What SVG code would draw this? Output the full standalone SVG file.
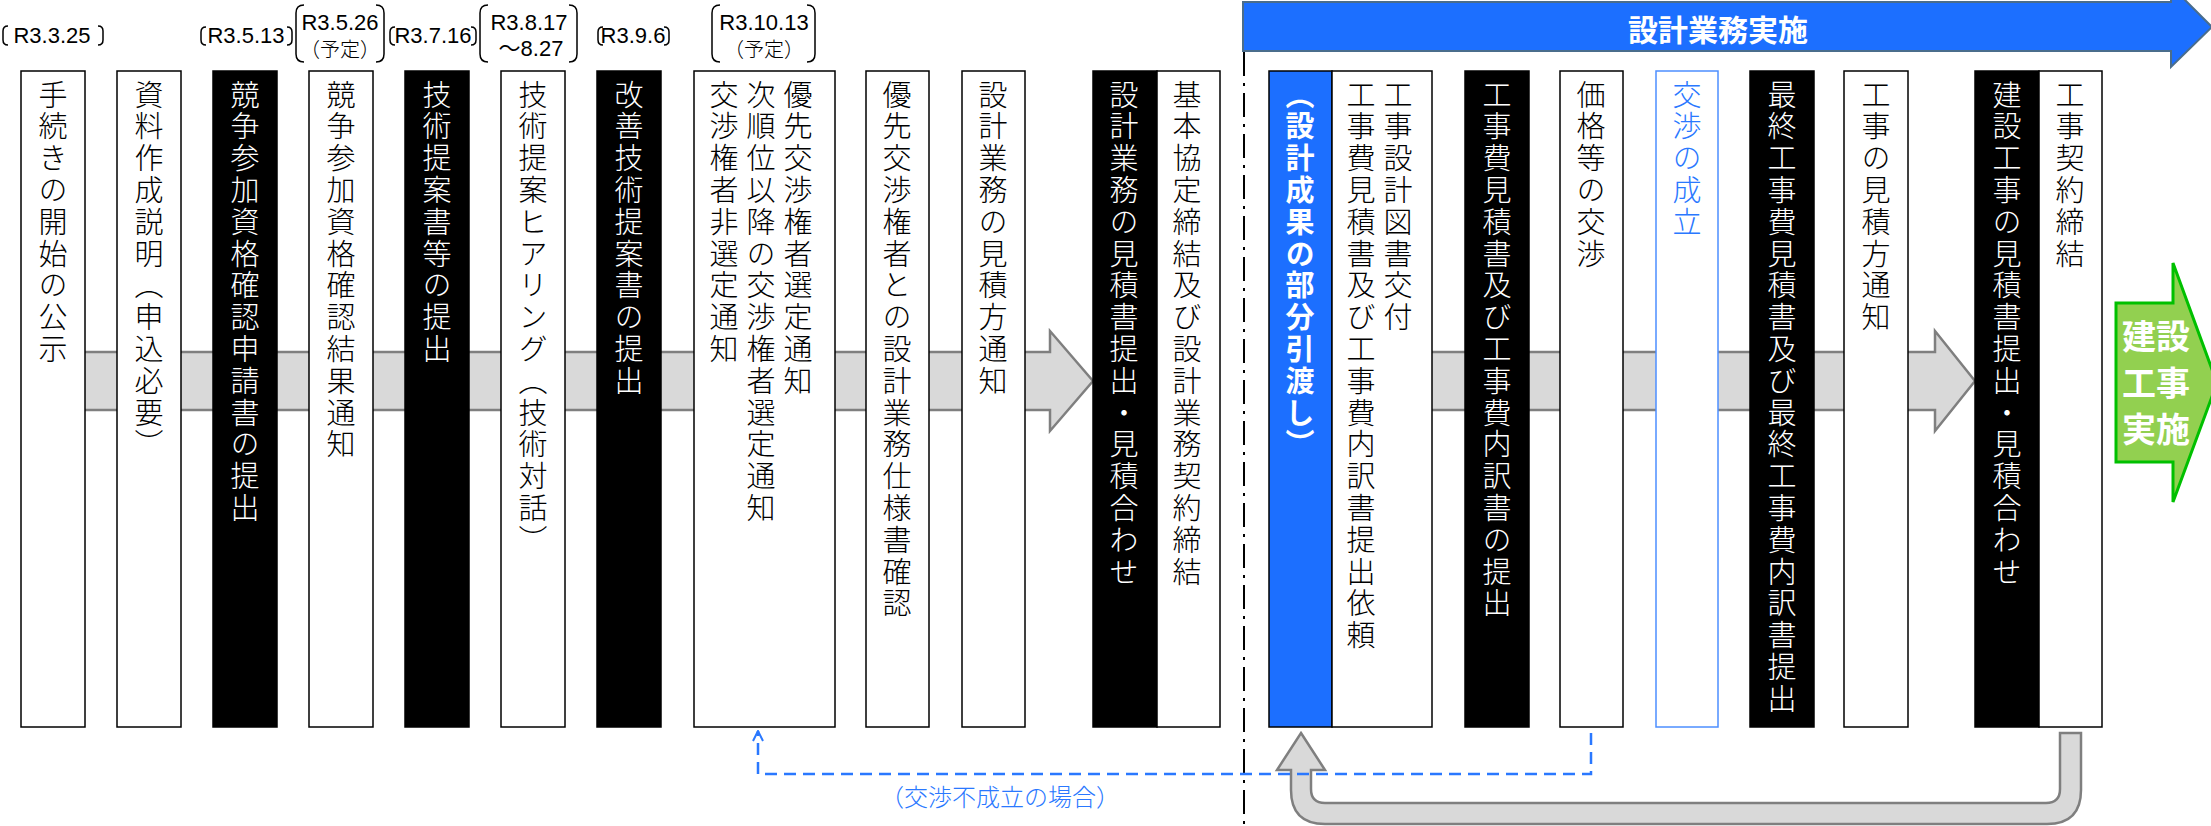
<svg xmlns="http://www.w3.org/2000/svg" width="2211" height="826" viewBox="0 0 2211 826">
<style>
.box{fill:#fff;stroke:#000;stroke-width:1.5}
.blk{fill:#000;stroke:#000;stroke-width:1.5}
.blu{fill:#1c6fff;stroke:#000;stroke-width:1.5}
.vt{font-family:"Noto Sans CJK JP",sans-serif;font-size:29px;font-weight:300;writing-mode:vertical-rl;letter-spacing:2.8px;fill:#000}
.w{fill:#fff}
.date{font-family:"Liberation Sans","Noto Sans CJK JP",sans-serif;font-size:22px;text-anchor:middle;fill:#000}
.jp18{font-family:"Noto Sans CJK JP",sans-serif;font-size:20px;font-weight:300;text-anchor:middle;fill:#000}
.brk{fill:none;stroke:#000;stroke-width:1.5}
.band{fill:#d9d9d9;stroke:#7f7f7f;stroke-width:2.5}
</style>
<defs>
<marker id="openArr" viewBox="0 0 12 12" refX="11" refY="6" markerWidth="12" markerHeight="12" markerUnits="userSpaceOnUse" orient="auto">
<path d="M1 1 L11 6 L1 11" fill="none" stroke="#2a78ff" stroke-width="2"/>
</marker>
</defs>

<!-- banner -->
<g id="banner">
<path d="M1243 2 H2171 V-14 L2212 27 L2171 67 V51 H1243 Z" fill="#1c6fff" stroke="#4a6d8c" stroke-width="2"/>
<text x="1718" y="41" font-family="Noto Sans CJK JP,sans-serif" font-size="30" font-weight="bold" fill="#fff" text-anchor="middle">設計業務実施</text>
</g>

<!-- dates -->
<g id="dates">
<path class="brk" d="M8 26 Q3 26 3 31 V40 Q3 45 8 45"/>
<path class="brk" d="M98 26 Q103 26 103 31 V40 Q103 45 98 45"/>
<text class="date" x="52" y="43">R3.3.25</text>

<path class="brk" d="M206 27 Q201 27 201 32 V40 Q201 45 206 45"/>
<path class="brk" d="M287 27 Q292 27 292 32 V40 Q292 45 287 45"/>
<text class="date" x="246" y="43">R3.5.13</text>

<path class="brk" d="M304 5 Q296 5 296 13 V54 Q296 62 304 62"/>
<path class="brk" d="M376 5 Q384 5 384 13 V54 Q384 62 376 62"/>
<text class="date" x="340" y="30">R3.5.26</text>
<text class="jp18" x="340" y="57">（予定）</text>

<path class="brk" d="M395 27 Q390 27 390 32 V40 Q390 45 395 45"/>
<path class="brk" d="M471 27 Q476 27 476 32 V40 Q476 45 471 45"/>
<text class="date" x="433" y="43">R3.7.16</text>

<path class="brk" d="M488 5 Q480 5 480 13 V54 Q480 62 488 62"/>
<path class="brk" d="M569 5 Q577 5 577 13 V54 Q577 62 569 62"/>
<text class="date" x="529" y="30">R3.8.17</text>
<text class="date" x="531" y="56">～8.27</text>

<path class="brk" d="M603 27 Q598 27 598 32 V40 Q598 45 603 45"/>
<path class="brk" d="M664 27 Q669 27 669 32 V40 Q669 45 664 45"/>
<text class="date" x="633" y="43">R3.9.6</text>

<path class="brk" d="M720 5 Q712 5 712 13 V54 Q712 62 720 62"/>
<path class="brk" d="M807 5 Q815 5 815 13 V54 Q815 62 807 62"/>
<text class="date" x="764" y="30">R3.10.13</text>
<text class="jp18" x="764" y="57">（予定）</text>
</g>

<!-- divider -->
<line x1="1244" y1="52" x2="1244" y2="826" stroke="#000" stroke-width="2" stroke-dasharray="24 7 3 7"/>

<!-- connectors -->
<g id="connectors">
<path class="band" d="M40 352 H1050 V331 L1093 381 L1050 431 V410 H40 Z"/>
<path class="band" d="M1300 352 H1935 V331 L1975 381 L1935 431 V410 H1300 Z"/>
<path class="band" d="M1301 733 L1325 770 L1311 770 L1311 789 Q1311 803 1325 803 L2046 803 Q2060 803 2060 789 L2060 733 L2081 733 L2081 790 Q2081 824 2047 824 L1325 824 Q1291 824 1291 790 L1291 770 L1277 770 Z"/>
<path d="M1591 733 V774 H758 V731" fill="none" stroke="#2a78ff" stroke-width="2.5" stroke-dasharray="12 7" marker-end="url(#openArr)"/>
<text x="1000" y="806" font-family="Noto Sans CJK JP,sans-serif" font-size="24" font-weight="300" fill="#2a78ff" text-anchor="middle">（交渉不成立の場合）</text>
</g>

<g id="n1"><rect class="box" x="21" y="71" width="64" height="656"/><text class="vt" x="53" y="80">手続きの開始の公示</text></g>
<g id="n2"><rect class="box" x="117" y="71" width="64" height="656"/><text class="vt" x="149" y="80">資料作成説明（申込必要）</text></g>
<g id="n3"><rect class="blk" x="213" y="71" width="64" height="656"/><text class="vt w" x="245" y="80">競争参加資格確認申請書の提出</text></g>
<g id="n4"><rect class="box" x="309" y="71" width="64" height="656"/><text class="vt" x="341" y="80">競争参加資格確認結果通知</text></g>
<g id="n5"><rect class="blk" x="405" y="71" width="64" height="656"/><text class="vt w" x="437" y="80">技術提案書等の提出</text></g>
<g id="n6"><rect class="box" x="501" y="71" width="64" height="656"/><text class="vt" x="533" y="80">技術提案ヒアリング（技術対話）</text></g>
<g id="n7"><rect class="blk" x="597" y="71" width="64" height="656"/><text class="vt w" x="629" y="80">改善技術提案書の提出</text></g>
<g id="n8"><rect class="box" x="694" y="71" width="141" height="656"/>
<text class="vt" x="798" y="80">優先交渉権者選定通知</text>
<text class="vt" x="761" y="80">次順位以降の交渉権者選定通知</text>
<text class="vt" x="724" y="80">交渉権者非選定通知</text></g>
<g id="n9"><rect class="box" x="866" y="71" width="63" height="656"/><text class="vt" x="897" y="80">優先交渉権者との設計業務仕様書確認</text></g>
<g id="n10"><rect class="box" x="962" y="71" width="63" height="656"/><text class="vt" x="993" y="80">設計業務の見積方通知</text></g>
<g id="n11"><rect class="blk" x="1093" y="71" width="64" height="656"/><rect class="box" x="1157" y="71" width="63" height="656"/>
<text class="vt w" x="1124" y="80">設計業務の見積書提出・見積合わせ</text>
<text class="vt" x="1187" y="80">基本協定締結及び設計業務契約締結</text></g>
<g id="n12"><rect class="blu" x="1269" y="71" width="63" height="656"/><rect class="box" x="1332" y="71" width="100" height="656"/>
<text class="vt w" x="1300" y="80" style="font-weight:bold">（設計成果の部分引渡し）</text>
<text class="vt" x="1398" y="80">工事設計図書交付</text>
<text class="vt" x="1361" y="80">工事費見積書及び工事費内訳書提出依頼</text></g>
<g id="n13"><rect class="blk" x="1465" y="71" width="64" height="656"/><text class="vt w" x="1497" y="80">工事費見積書及び工事費内訳書の提出</text></g>
<g id="n14"><rect class="box" x="1560" y="71" width="63" height="656"/><text class="vt" x="1591" y="80">価格等の交渉</text></g>
<g id="n15"><rect x="1656" y="71" width="62" height="656" fill="#fff" stroke="#4d8fff" stroke-width="1.5"/><text class="vt" x="1687" y="80" style="fill:#2a78ff">交渉の成立</text></g>
<g id="n16"><rect class="blk" x="1750" y="71" width="64" height="656"/><text class="vt w" x="1782" y="80">最終工事費見積書及び最終工事費内訳書提出</text></g>
<g id="n17"><rect class="box" x="1844" y="71" width="64" height="656"/><text class="vt" x="1876" y="80">工事の見積方通知</text></g>
<g id="n18"><rect class="blk" x="1975" y="71" width="64" height="656"/><rect class="box" x="2039" y="71" width="63" height="656"/>
<text class="vt w" x="2007" y="80">建設工事の見積書提出・見積合わせ</text>
<text class="vt" x="2070" y="80">工事契約締結</text></g>

<g id="n19">
<path d="M2116 303 H2173 V263 L2217 383 L2173 502 V462 H2116 Z" fill="#92d050" stroke="#00c000" stroke-width="3"/>
<g font-family="Noto Sans CJK JP,sans-serif" font-size="34" font-weight="bold" fill="#fff" text-anchor="middle">
<text x="2156" y="349">建設</text>
<text x="2156" y="396">工事</text>
<text x="2156" y="442">実施</text>
</g>
</g>
</svg>
